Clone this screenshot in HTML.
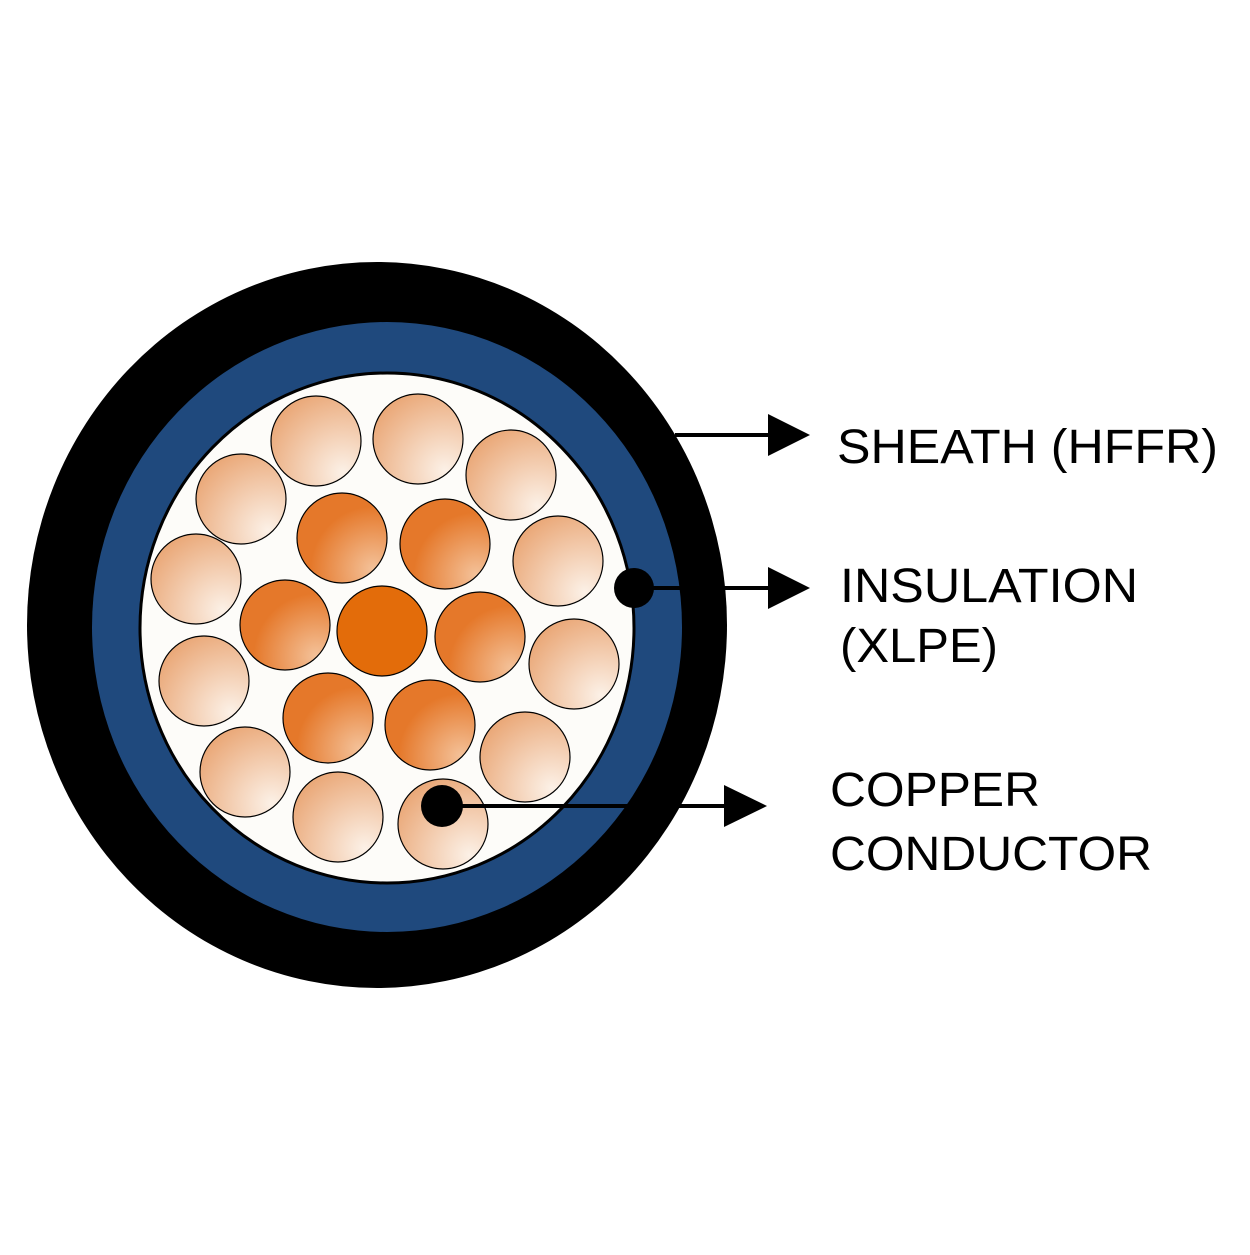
<!DOCTYPE html>
<html><head><style>html,body{margin:0;padding:0;background:#fff;}</style></head>
<body>
<svg width="1250" height="1250" viewBox="0 0 1250 1250" xmlns="http://www.w3.org/2000/svg">
<defs>
<radialGradient id="lt" cx="0.8" cy="0.85" r="1">
<stop offset="0" stop-color="#fcf1e7"/><stop offset="1" stop-color="#e9a472"/></radialGradient>
<radialGradient id="md" cx="0.85" cy="0.85" r="1">
<stop offset="0" stop-color="#f4c29a"/><stop offset="0.7" stop-color="#e5782a"/></radialGradient>
</defs>
<rect width="1250" height="1250" fill="#fff"/>
<ellipse cx="377" cy="625" rx="350" ry="363" fill="#000"/>
<ellipse cx="387" cy="627" rx="295" ry="305" fill="#1f497d"/>
<ellipse cx="387" cy="628" rx="247" ry="255" fill="#fdfcf9" stroke="#000" stroke-width="3"/>
<g stroke="#000" stroke-width="1.2">
<circle cx="382" cy="631" r="45" fill="#e36c0a"/>
<g fill="url(#md)">
<circle cx="342" cy="538" r="45"/><circle cx="445" cy="544" r="45"/>
<circle cx="285" cy="625" r="45"/><circle cx="480" cy="637" r="45"/>
<circle cx="328" cy="718" r="45"/><circle cx="430" cy="725" r="45"/>
</g>
<g fill="url(#lt)">
<circle cx="316" cy="441" r="45"/><circle cx="418" cy="439" r="45"/>
<circle cx="511" cy="475" r="45"/><circle cx="241" cy="499" r="45"/>
<circle cx="558" cy="561" r="45"/><circle cx="196" cy="579" r="45"/>
<circle cx="574" cy="664" r="45"/><circle cx="204" cy="681" r="45"/>
<circle cx="525" cy="757" r="45"/><circle cx="245" cy="772" r="45"/>
<circle cx="338" cy="817" r="45"/><circle cx="443" cy="824" r="45"/>
</g>
</g>
<g stroke="#000" stroke-width="4">
<line x1="675" y1="435" x2="772" y2="435"/>
<line x1="634" y1="588" x2="772" y2="588"/>
<line x1="442" y1="806" x2="728" y2="806"/>
</g>
<polygon points="768,414 810,435 768,456" fill="#000"/>
<polygon points="768,567 810,588 768,609" fill="#000"/>
<polygon points="724,785 767,806 724,827" fill="#000"/>
<circle cx="634" cy="588" r="20" fill="#000"/>
<circle cx="442" cy="806" r="21" fill="#000"/>
<g font-family="Liberation Sans, sans-serif" font-size="48" fill="#000">
<text x="837" y="463" textLength="381" lengthAdjust="spacingAndGlyphs">SHEATH (HFFR)</text>
<text x="840" y="602" textLength="298" lengthAdjust="spacingAndGlyphs">INSULATION</text>
<text x="840" y="662" textLength="158" lengthAdjust="spacingAndGlyphs">(XLPE)</text>
<text x="830" y="806" textLength="210" lengthAdjust="spacingAndGlyphs">COPPER</text>
<text x="830" y="870" textLength="322" lengthAdjust="spacingAndGlyphs">CONDUCTOR</text>
</g>
</svg>
</body></html>
